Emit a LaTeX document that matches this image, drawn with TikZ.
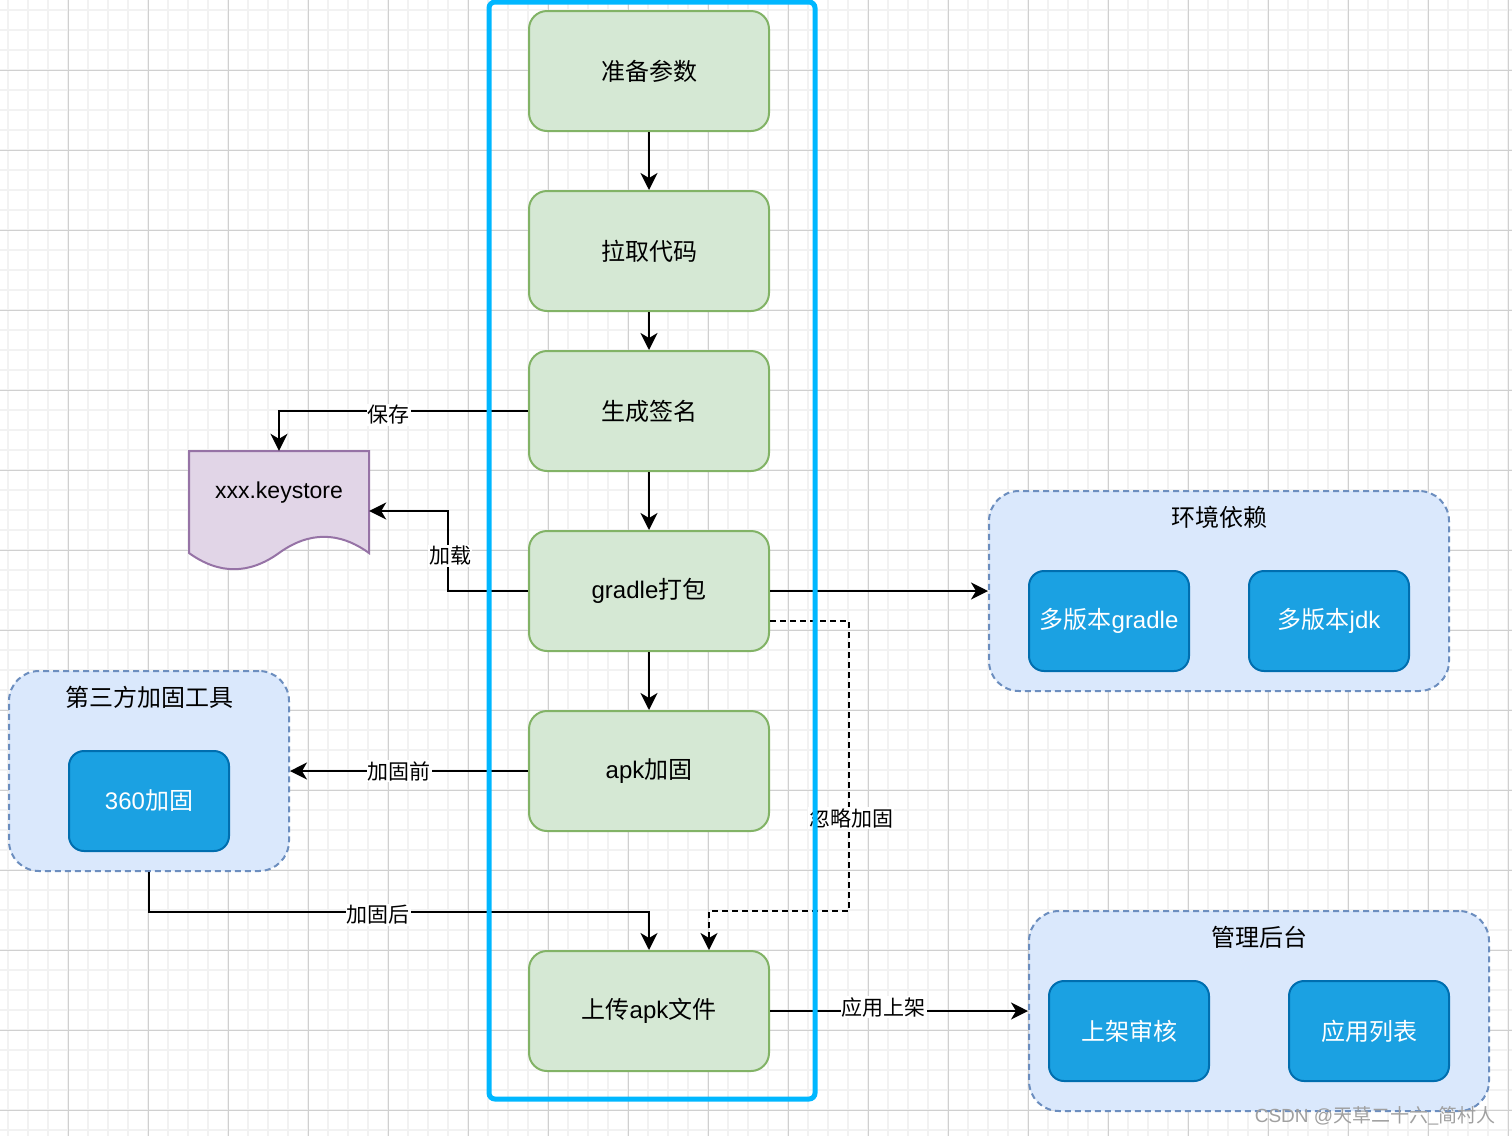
\documentclass[tikz,border=0pt]{standalone}
\usepackage{fontspec}
\setmainfont{Noto Sans CJK SC}
\newfontfamily\lat{Liberation Sans}
\usetikzlibrary{arrows.meta}
\definecolor{gfill}{HTML}{D5E8D4}
\definecolor{gline}{HTML}{82B366}
\definecolor{pfill}{HTML}{E1D5E7}
\definecolor{pline}{HTML}{9673A6}
\definecolor{bfill}{HTML}{DAE8FC}
\definecolor{bline}{HTML}{6C8EBF}
\definecolor{dfill}{HTML}{1BA1E2}
\definecolor{dline}{HTML}{006EAF}
\definecolor{cont}{HTML}{00B7FF}
\definecolor{gminor}{HTML}{F2F2F2}
\definecolor{gmajor}{HTML}{D0D0D0}
\definecolor{wm}{HTML}{A0A0A0}
\tikzset{
  stepbox/.style={draw=gline, fill=gfill, line width=2pt, rounded corners=18pt,
    minimum width=240pt, minimum height=120pt, inner sep=0pt,
    font=\fontsize{24}{28}\selectfont},
  groupbox/.style={draw=bline, fill=bfill, line width=2pt, dash pattern=on 6pt off 4pt,
    rounded corners=30pt, inner sep=0pt},
  grouptitle/.style={font=\fontsize{24}{28}\selectfont, inner sep=0pt},
  toolbox/.style={draw=dline, fill=dfill, line width=2pt, rounded corners=15pt,
    minimum width=160pt, minimum height=100pt, inner sep=0pt, text=white,
    font=\fontsize{24}{28}\selectfont},
  conn/.style={line width=2pt, -{Stealth[length=17pt,width=17pt,inset=5pt]}},
  dconn/.style={conn, dash pattern=on 6pt off 4pt},
  lbl/.style={fill=white, inner sep=1pt, font=\fontsize{21}{25}\selectfont},
}
\begin{document}
\begin{tikzpicture}[x=1pt,y=-1pt]
\useasboundingbox (0,0) rectangle (1512,1136);
\fill[white] (0,0) rectangle (1512,1136);
% grid
\foreach \x in {8,28,...,1508} \draw[gminor, line width=2pt] (\x,0) -- (\x,1136);
\foreach \y in {10,30,...,1130} \draw[gminor, line width=2pt] (0,\y) -- (1512,\y);
\foreach \x in {68,148,...,1508} \draw[gmajor, line width=1pt] (\x,0) -- (\x,1136);
\foreach \y in {70,150,...,1110} \draw[gmajor, line width=1pt] (0,\y) -- (1512,\y);

% groups
\node[groupbox, minimum width=460pt, minimum height=200pt] (env) at (1219,591) {};
\node[grouptitle] (envt) at (1219,517) {环境依赖};
\node[toolbox] (mg) at (1109,621) {多版本{\lat gradle}};
\node[toolbox] (mj) at (1329,621) {多版本{\lat jdk}};

\node[groupbox, minimum width=280pt, minimum height=200pt] (tp) at (149,771) {};
\node[grouptitle] (tpt) at (149,697) {第三方加固工具};
\node[toolbox] (t360) at (149,801) {{\lat 360}加固};

\node[groupbox, minimum width=460pt, minimum height=200pt] (adm) at (1259,1011) {};
\node[grouptitle] (admt) at (1259,937) {管理后台};
\node[toolbox] (rev) at (1129,1031) {上架审核};
\node[toolbox] (lst) at (1369,1031) {应用列表};

% keystore document
\node[minimum width=180pt, minimum height=120pt, inner sep=0pt] (ks) at (279,511) {};
\filldraw[fill=pfill, draw=pline, line width=2pt]
  (189,451) -- (369,451) -- (369,553)
  .. controls (339,531.4) and (309,531.4) .. (279,553)
  .. controls (249,574.6) and (219,574.6) .. (189,553) -- cycle;
\node[font=\fontsize{23}{27}\selectfont\lat, inner sep=0pt] (kst) at (279,493) {xxx.keystore};

% steps
\node[stepbox] (s1) at (649,71) {准备参数};
\node[stepbox] (s2) at (649,251) {拉取代码};
\node[stepbox] (s3) at (649,411) {生成签名};
\node[stepbox] (s4) at (649,591) {{\lat gradle}打包};
\node[stepbox] (s5) at (649,771) {{\lat apk}加固};
\node[stepbox] (s6) at (649,1011) {上传{\lat apk}文件};

% edges
\draw[conn] (s1.south) -- (s2.north);
\draw[conn] (s2.south) -- (s3.north);
\draw[conn] (s3.south) -- (s4.north);
\draw[conn] (s4.south) -- (s5.north);
\draw[conn] (s3.west) -| node[lbl, pos=0.28, yshift=-4pt] {保存} (ks.north);
\draw[conn] (s4.west) -- ++(-80,0) |- node[lbl, pos=0.22, xshift=2pt] {加载} (ks.east);
\draw[conn] (s4.east) -- (env.west);
\coordinate (skip) at (849,911);
\draw[dconn] ([yshift=-30pt]s4.east) -| node[lbl, pos=0.84, xshift=2pt] {忽略加固} (skip) -| ([xshift=60pt]s6.north);
\draw[conn] (s5.west) -- node[lbl, pos=0.54] {加固前} (tp.east);
\draw[conn] (tp.south) -- ++(0,40) -| node[lbl, pos=0.229, yshift=-3pt] {加固后} (s6.north);
\draw[conn] (s6.east) -- node[lbl, pos=0.44, yshift=4pt] {应用上架} (adm.west);

% swimlane container
\node[draw=cont, line width=5pt, rounded corners=6pt, minimum width=326pt,
  minimum height=1097pt, inner sep=0pt] (lane) at (652,550.5) {};

% watermark
\node[anchor=east, text=wm, inner sep=0pt, font=\fontsize{19}{22}\selectfont] (wmk) at (1496,1116) {{\lat CSDN @}天草二十六\_简村人};
\end{tikzpicture}
\end{document}
